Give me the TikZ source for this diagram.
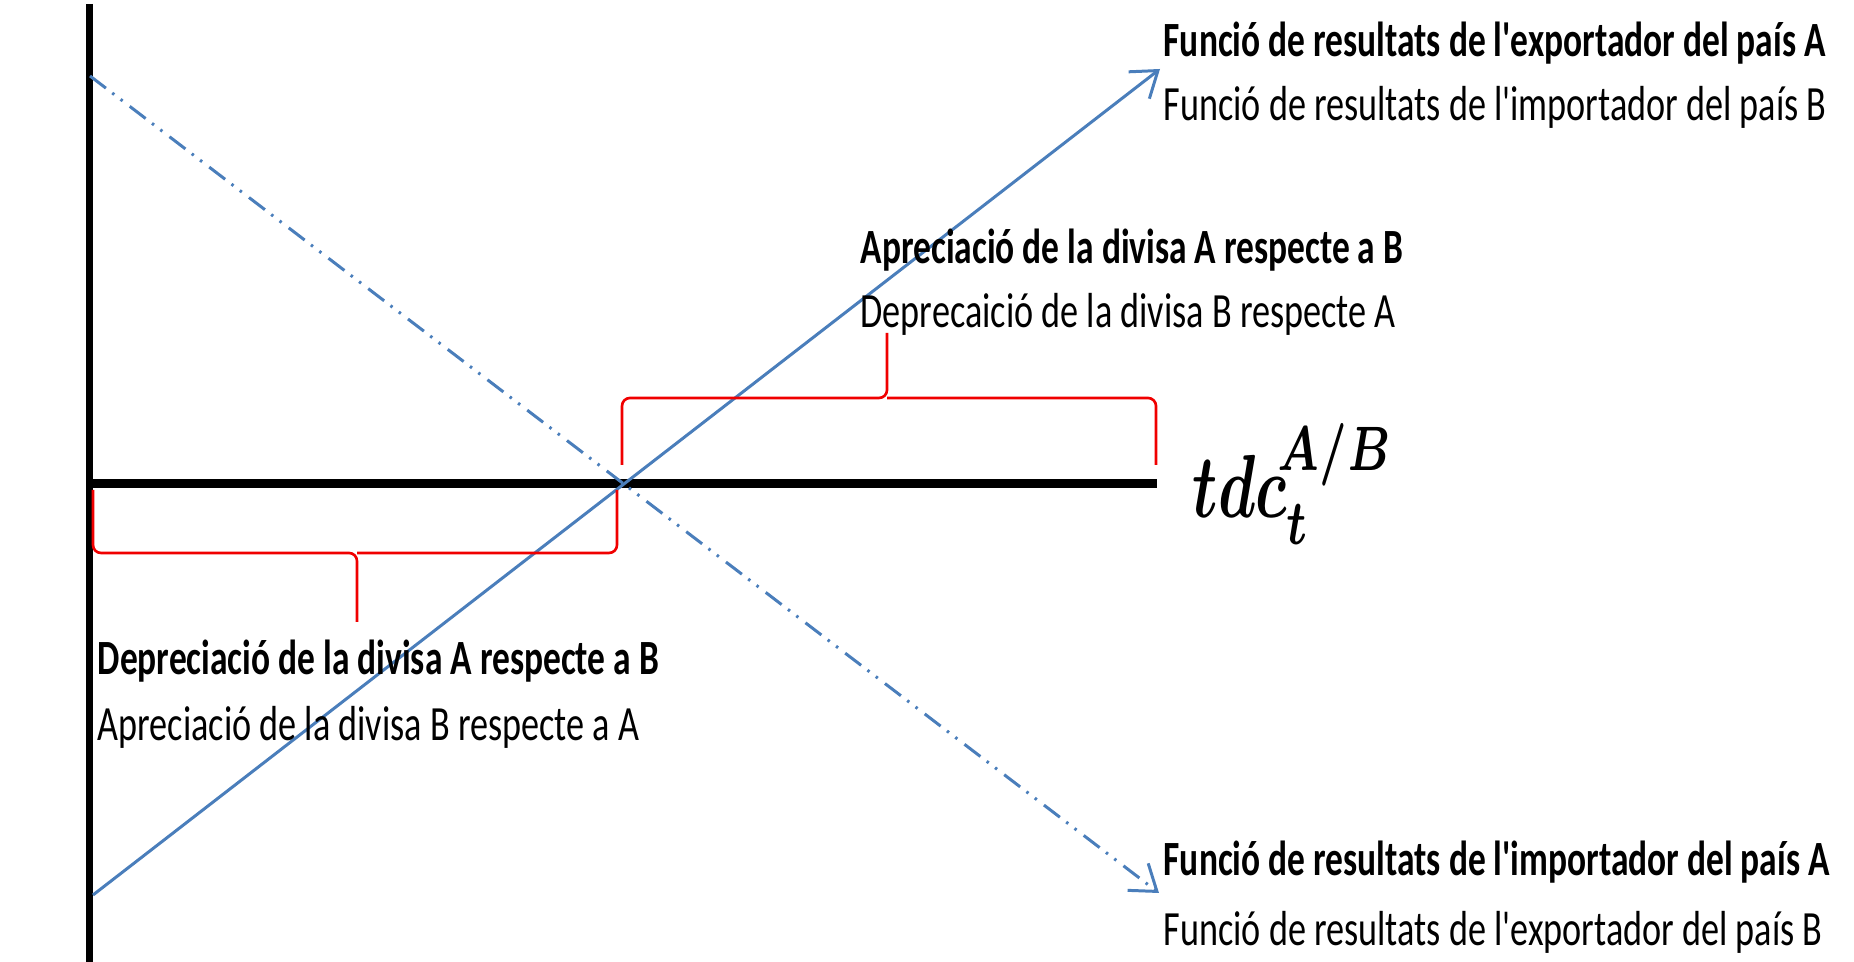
\documentclass[tikz,border=0pt]{standalone}
\usepackage{fontspec}
\setmainfont{Carlito}[FakeStretch=0.735,BoldFeatures={FakeStretch=0.72},Ligatures=TeXOff]
\usetikzlibrary{arrows.meta}
\definecolor{lineblue}{HTML}{4A7EBB}
\definecolor{bracered}{HTML}{F00000}

\begin{document}
\begin{tikzpicture}[x=0.01cm,y=-0.01cm,
  axis/.style={black,line width=2pt},
  result/.style={lineblue,line width=0.85pt,-{Straight Barb[length=0.24cm,width=0.34cm]}},
  dashdotdot/.style={dash pattern=on 0.2cm off 0.08cm on 0.025cm off 0.08cm on 0.025cm off 0.09cm},
  redbrace/.style={bracered,line width=0.75pt,rounded corners=0.08cm},
  txt/.style={anchor=base west,inner sep=0pt,font=\fontsize{14}{16}\selectfont},
  txtbold/.style={txt,font=\fontsize{14}{16}\selectfont\bfseries}]

\useasboundingbox (0,0) rectangle (1854,962);

% axes
\coordinate (ytop) at (89.5,4);
\coordinate (ybot) at (89.5,962);
\coordinate (xleft) at (89.5,483.5);
\coordinate (xright) at (1157,483.5);
\coordinate (O) at (623,483.5);
\draw[axis] (ytop) -- (ybot);
\draw[axis,line width=2.6pt] (xleft) -- (xright);

% result functions
\coordinate (expA0) at (93,895);
\coordinate (expA1) at (1160,69);
\coordinate (impA0) at (90,76);
\coordinate (impA1) at (1159,893);
\draw[result] (expA0) -- (expA1);
\draw[result,dashdotdot] (impA0) -- (impA1);

% braces
\draw[redbrace] (622,465) |- (887,398) -- (887,333);
\draw[redbrace] (1156,465) |- (887,398);
\draw[redbrace] (93,490) |- (357,553) -- (357,622);
\draw[redbrace] (617,490) |- (357,553);

% labels
\node[txtbold] (expAtxt) at (1163,57) {Funció de resultats de l'exportador del país A};
\node[txt] (impBtxt) at (1163,121) {Funció de resultats de l'importador del país B};
\node[txtbold] (aprA) at (860,264) {Apreciació de la divisa A respecte a B};
\node[txt] (depB) at (860,328) {Deprecaició de la divisa B respecte A};
\node[txtbold] (depA) at (97,675) {Depreciació de la divisa A respecte a B};
\node[txt] (aprB) at (97,741) {Apreciació de la divisa B respecte a A};
\node[txtbold] (impAtxt) at (1163,876) {Funció de resultats de l'importador del país A};
\node[txt] (expBtxt) at (1163,946) {Funció de resultats de l'exportador del país B};
\node[anchor=base west,inner sep=0pt] (tdc) at (1192,518)
  {\scalebox{1.74}[2.55]{\boldmath$tdc_{t\vphantom{l}}^{\!A/B}$}};
\end{tikzpicture}
\end{document}
